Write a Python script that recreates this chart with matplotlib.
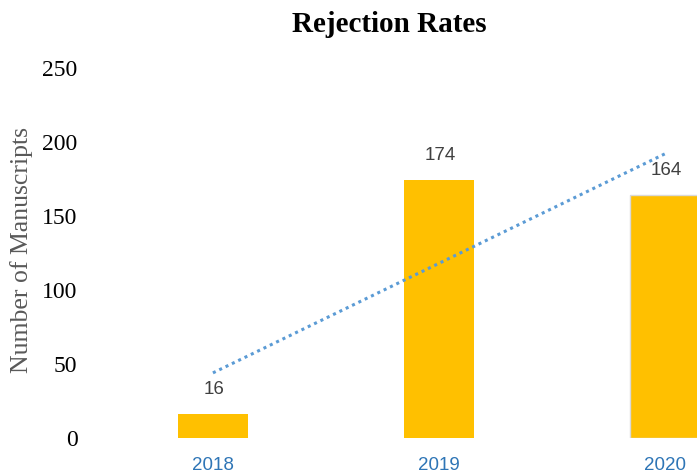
# Rejection Rates bar chart with a dotted linear trendline

import numpy as np
import matplotlib.pyplot as plt


# --------------------------------------------------
# DATA
# --------------------------------------------------

years = ['2018', '2019', '2020']
rejected = [16, 174, 164]
y_ticks = [0, 50, 100, 150, 200, 250]


# --------------------------------------------------
# FIGURE
# --------------------------------------------------

fig = plt.figure(figsize=(6.97, 4.76), dpi=100)
ax = fig.add_axes([90 / 697, 38 / 476, 607 / 697, 370 / 476])

x = np.arange(len(years))
bars = ax.bar(x, rejected, width=0.31, color='#FFC000', zorder=2)
bars[-1].set_edgecolor('#d9d9d9')
bars[-1].set_linewidth(1.0)

# linear trendline (least squares over the three bars)
slope, intercept = np.polyfit(x, rejected, 1)
ax.plot(x[[0, -1]], slope * x[[0, -1]] + intercept, linestyle=(0, (1, 1.3)),
        color='#5B9BD5', linewidth=2.2, zorder=3)

# value labels
for xi, v in zip(x, rejected):
    ax.text(xi + 0.005, v + 11, str(v), ha='center', va='bottom',
            fontsize=13.5, color='#404040', family='Liberation Sans')

ax.set_xlim(-0.544, 2.142)
ax.set_ylim(0, 250)
ax.set_yticks(y_ticks)
ax.set_yticklabels([str(t) for t in y_ticks], family='Liberation Serif',
                   fontsize=17, color='black')
ax.set_xticks(x)
ax.set_xticklabels(years, family='Liberation Sans', fontsize=13.5,
                   color='#2E75B6')
ax.tick_params(axis='y', length=0, pad=9)
ax.tick_params(axis='x', length=0, pad=14)

for side in ['top', 'right', 'left', 'bottom']:
    ax.spines[side].set_visible(False)

fig.text(389 / 697, 1 - 25 / 476, 'Rejection Rates', ha='center', va='center',
         family='Liberation Serif', fontsize=21, fontweight='bold')
fig.text(22 / 697, 1 - 250 / 476, 'Number of Manuscripts', rotation=90,
         ha='center', va='center', family='Liberation Serif', fontsize=18.5,
         color='#595959')

fig.savefig('out.png', dpi=100)
